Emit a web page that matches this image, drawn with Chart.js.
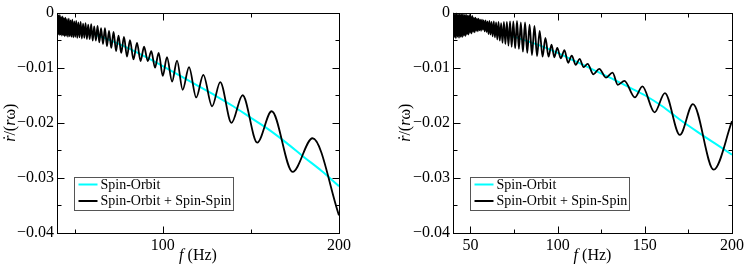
<!DOCTYPE html>
<html>
<head>
<meta charset="utf-8">
<script src="https://cdn.jsdelivr.net/npm/chart.js@4.4.0/dist/chart.umd.min.js"></script>
<style>
  body { margin: 0; background: #fff; }
  #wrap { position: relative; width: 747px; height: 266px; }
  canvas { position: absolute; top: 0; }
</style>
</head>
<body>
<div id="wrap">
  <canvas id="leftChart" width="380" height="266" style="left:0"></canvas>
  <canvas id="rightChart" width="367" height="266" style="left:380px"></canvas>
</div>
<script>
// Series names
const seriesNames = ['Spin-Orbit', 'Spin-Orbit + Spin-Spin'];

// Axis ticks (major get labels, minor only marks)
const yTicks = [-0.04, -0.035, -0.03, -0.025, -0.02, -0.015, -0.01, -0.005, 0];
const yMajor = [-0.04, -0.03, -0.02, -0.01, 0];
const yLabels = ['\u22120.04', '\u22120.03', '\u22120.02', '\u22120.01', '0'];
const leftXTicks = [50, 100, 150, 200];
const leftXMajor = [100, 200];
const rightXTicks = [50, 75, 100, 125, 150, 175, 200];
const rightXMajor = [50, 100, 150, 200];

// Left panel: Spin-Orbit (smooth)
const leftSoF = [40, 50, 60, 70, 80, 90, 100, 110, 120, 130, 140, 150, 160, 170, 180, 190, 200];
const leftSoV = [-0.0016, -0.0027, -0.0038, -0.0050, -0.0064, -0.0080, -0.0097, -0.0115, -0.0133,
  -0.0151, -0.0170, -0.0191, -0.0212, -0.0236, -0.0262, -0.0287, -0.0315];

// Left panel: Spin-Orbit + Spin-Spin (peaks and troughs)
const leftSsF = [40.0, 40.2, 40.55, 40.9, 41.25, 41.6, 42.0, 42.4, 42.8, 43.2, 43.6, 44.0, 44.4, 44.8,
  45.25, 45.7, 46.2, 46.7, 47.2, 47.7, 48.2, 48.7, 49.25, 49.8, 50.35, 50.9, 51.5, 52.1, 52.75, 53.4,
  54.1, 54.8, 55.5, 56.2, 56.95, 57.7, 58.55, 59.4, 60.25, 61.1, 62.05, 63.0, 64.0, 65.0, 66.1, 67.2,
  68.35, 69.5, 70.8, 72.1, 73.5, 74.9, 76.45, 78.0, 79.7, 81.4, 83.4, 85.4, 87.4, 89.4, 91.5, 93.5,
  95.6, 97.7, 100.0, 102.4, 105.3, 108.1, 111.3, 114.9, 119.0, 123.0, 128.0, 132.6, 139.0, 145.3,
  153.6, 161.8, 173.7, 185.0, 200.0];
const leftSsV = [-0.0022, -0.0002, -0.0039, -0.0005, -0.0041, -0.0004, -0.0040, -0.0008, -0.0042,
  -0.0007, -0.0041, -0.0010, -0.0043, -0.0009, -0.0042, -0.0012, -0.0044, -0.0011, -0.0043, -0.0014,
  -0.0044, -0.0013, -0.0045, -0.0016, -0.0044, -0.0015, -0.0046, -0.0018, -0.0045, -0.0017, -0.0047,
  -0.0020, -0.0046, -0.0019, -0.0048, -0.0022, -0.0048, -0.0021, -0.0051, -0.0025, -0.0051, -0.0024,
  -0.0054, -0.0028, -0.0057, -0.0028, -0.0061, -0.0033, -0.0064, -0.0035, -0.0070, -0.0042, -0.0073,
  -0.0044, -0.0080, -0.0050, -0.0085, -0.0055, -0.0088, -0.0062, -0.0088, -0.0070, -0.0100, -0.0073,
  -0.0115, -0.0081, -0.0125, -0.0087, -0.0140, -0.0099, -0.0154, -0.0113, -0.0170, -0.0126, -0.0200,
  -0.0150, -0.0236, -0.0179, -0.0289, -0.0228, -0.0368];

// Right panel: Spin-Orbit (smooth)
const rightSoF = [40, 50, 60, 70, 80, 90, 100, 110, 120, 130, 140, 150, 160, 170, 180, 190, 200];
const rightSoV = [-0.0010, -0.0020, -0.0029, -0.0039, -0.0049, -0.0060, -0.0073, -0.0088, -0.0103,
  -0.0118, -0.0134, -0.0150, -0.0170, -0.0194, -0.0216, -0.0237, -0.0258];

// Right panel: Spin-Orbit + Spin-Spin (peaks and troughs)
const rightSsF = [40.0, 40.3, 40.75, 41.2, 41.65, 42.1, 42.55, 43.0, 43.45, 43.9, 44.35, 44.8, 45.25,
  45.7, 46.15, 46.6, 47.05, 47.5, 47.95, 48.4, 48.85, 49.3, 49.75, 50.2, 50.65, 51.1, 51.55, 52.0,
  52.45, 52.9, 53.35, 53.8, 54.25, 54.7, 55.15, 55.6, 56.1, 56.6, 57.1, 57.6, 58.15, 58.7, 59.25,
  59.8, 60.35, 60.9, 61.5, 62.1, 62.75, 63.4, 64.05, 64.7, 65.4, 66.1, 66.85, 67.6, 68.4, 69.2,
  70.05, 70.9, 71.8, 72.7, 73.65, 74.6, 75.65, 76.7, 77.8, 78.9, 80.1, 81.3, 82.6, 83.9, 85.3, 86.7,
  88.2, 89.7, 91.35, 93.0, 94.8, 96.5, 98.1, 99.8, 101.8, 103.9, 106.0, 108.1, 110.4, 112.6, 114.9,
  117.2, 120.5, 123.9, 127.7, 131.5, 134.5, 138.3, 144.3, 148.6, 155.6, 161.5, 170.1, 177.6, 189.5,
  200.0];
const rightSsV = [-0.0022, -0.0001, -0.0045, -0.0002, -0.0047, -0.0001, -0.0044, -0.0003, -0.0046,
  -0.0002, -0.0044, -0.0003, -0.0045, -0.0002, -0.0042, -0.0004, -0.0043, -0.0003, -0.0040, -0.0005,
  -0.0040, -0.0004, -0.0037, -0.0006, -0.0038, -0.0006, -0.0035, -0.0009, -0.0036, -0.0009, -0.0033,
  -0.0011, -0.0034, -0.0011, -0.0032, -0.0013, -0.0033, -0.0013, -0.0031, -0.0014, -0.0034, -0.0014,
  -0.0035, -0.0016, -0.0039, -0.0015, -0.0040, -0.0017, -0.0043, -0.0016, -0.0045, -0.0018, -0.0049,
  -0.0017, -0.0051, -0.0019, -0.0055, -0.0017, -0.0057, -0.0017, -0.0060, -0.0016, -0.0062, -0.0016,
  -0.0065, -0.0015, -0.0066, -0.0018, -0.0071, -0.0018, -0.0073, -0.0022, -0.0077, -0.0024, -0.0079,
  -0.0033, -0.0080, -0.0046, -0.0080, -0.0058, -0.0081, -0.0064, -0.0083, -0.0068, -0.0091, -0.0078,
  -0.0095, -0.0084, -0.0099, -0.0093, -0.0112, -0.0102, -0.0118, -0.0109, -0.0131, -0.0124, -0.0154,
  -0.0134, -0.0181, -0.0146, -0.0222, -0.0166, -0.0285, -0.0197];

const SERIF = '"Liberation Serif", "Times New Roman", serif';
const CYAN = '#00ffff';

const toPoints = (fs, vs) => fs.map((f, i) => ({ x: f, y: vs[i] }));

// Frame, inward ticks, legend box and axis titles (xmgrace look)
const decorations = {
  id: 'decorations',
  afterDatasetsDraw(chart, args, o) {
    const { ctx, chartArea: a, scales: { x, y } } = chart;
    const L = Math.round(a.left) + 0.5, R = Math.round(a.right) + 0.5;
    const T = Math.round(a.top) + 0.5, B = Math.round(a.bottom) + 0.5;
    ctx.save();
    ctx.strokeStyle = '#000';
    ctx.lineWidth = 1;
    ctx.strokeRect(L, T, R - L, B - T);

    ctx.beginPath();
    o.xTicks.forEach(v => {
      const px = Math.round(x.getPixelForValue(v)) + 0.5;
      const len = o.xMajor.includes(v) ? 7 : 4;
      ctx.moveTo(px, B); ctx.lineTo(px, B - len);
      ctx.moveTo(px, T); ctx.lineTo(px, T + len);
    });
    yTicks.forEach(v => {
      const py = Math.round(y.getPixelForValue(v)) + 0.5;
      const len = yMajor.includes(v) ? 7 : 4;
      ctx.moveTo(L, py); ctx.lineTo(L + len, py);
      ctx.moveTo(R, py); ctx.lineTo(R - len, py);
    });
    ctx.stroke();

    // legend box
    const bx = L + 17, by = B - 56, bw = 159, bh = 33;
    ctx.fillStyle = '#fff';
    ctx.fillRect(bx, by, bw, bh);
    ctx.strokeStyle = '#555';
    ctx.strokeRect(bx, by, bw, bh);
    ctx.font = '14px ' + SERIF;
    ctx.textBaseline = 'middle';
    ctx.textAlign = 'left';
    chart.data.datasets.forEach((ds, i) => {
      const ly = by + 7 + i * 16.5;
      ctx.strokeStyle = ds.borderColor;
      ctx.lineWidth = 2;
      ctx.beginPath();
      ctx.moveTo(bx + 4, ly); ctx.lineTo(bx + 23, ly);
      ctx.stroke();
      ctx.fillStyle = '#000';
      ctx.fillText(ds.label, bx + 26, ly + 0.5);
    });

    // x title: f (Hz)
    ctx.fillStyle = '#000';
    ctx.textBaseline = 'middle';
    const cx = (a.left + a.right) / 2;
    drawParts(ctx, [['f', 'italic 16px '], [' (Hz)', '16px ']], cx, 256);

    // y title: r-dot/(r omega), rotated
    ctx.save();
    ctx.translate(o.yTitleX, (a.top + a.bottom) / 2);
    ctx.rotate(-Math.PI / 2);
    const yParts = [['r', 'italic 16px '], ['/(', '16px '], ['r', 'italic 16px '], ['\u03c9', '16px '], [')', '16px ']];
    const x0 = drawParts(ctx, yParts, 0, 0);
    ctx.font = '16px ' + SERIF;
    ctx.textAlign = 'center';
    ctx.fillText('\u02d9', x0 + 4, -1);
    ctx.restore();

    ctx.restore();
  }
};

// draws mixed-font text centred on cx, returns start x
function drawParts(ctx, parts, cx, cy) {
  let w = 0;
  parts.forEach(p => { ctx.font = p[1] + SERIF; w += ctx.measureText(p[0]).width; });
  let xPos = cx - w / 2;
  const start = xPos;
  ctx.textAlign = 'left';
  parts.forEach(p => {
    ctx.font = p[1] + SERIF;
    ctx.fillText(p[0], xPos, cy);
    xPos += ctx.measureText(p[0]).width;
  });
  return start;
}

function makeChart(id, cfg) {
  return new Chart(document.getElementById(id), {
    type: 'line',
    data: {
      datasets: [
        { label: seriesNames[0], data: toPoints(cfg.soF, cfg.soV), borderColor: CYAN, borderWidth: 2, order: 2 },
        { label: seriesNames[1], data: toPoints(cfg.ssF, cfg.ssV), borderColor: '#000', borderWidth: 1.8, order: 1 }
      ]
    },
    options: {
      responsive: false,
      animation: false,
      devicePixelRatio: 1,
      elements: { point: { radius: 0 }, line: { cubicInterpolationMode: 'monotone' } },
      layout: { padding: { left: 0, top: 7, right: cfg.padRight, bottom: 0 } },
      plugins: {
        legend: { display: false },
        tooltip: { enabled: false },
        decorations: { xTicks: cfg.xTicks, xMajor: cfg.xMajor, yTitleX: cfg.yTitleX }
      },
      scales: {
        x: {
          type: 'linear', min: 40, max: 200,
          grid: { display: false, drawTicks: false },
          border: { display: false },
          afterBuildTicks: s => { s.ticks = cfg.xTicks.map(v => ({ value: v })); },
          afterFit: s => { s.height = 33; },
          ticks: {
            autoSkip: false, maxRotation: 0, padding: 3, color: '#000',
            font: { family: SERIF, size: 16 },
            callback: v => cfg.xMajor.includes(v) ? String(v) : ''
          }
        },
        y: {
          type: 'linear', min: -0.04, max: 0,
          grid: { display: false, drawTicks: false },
          border: { display: false },
          afterBuildTicks: s => { s.ticks = yTicks.map(v => ({ value: v })); },
          afterFit: s => { s.width = cfg.yWidth; },
          ticks: {
            autoSkip: false, padding: 3, color: '#000',
            font: { family: SERIF, size: 16 },
            callback: v => { const i = yMajor.indexOf(v); return i >= 0 ? yLabels[i] : ''; }
          }
        }
      }
    },
    plugins: [decorations]
  });
}

makeChart('leftChart', {
  soF: leftSoF, soV: leftSoV, ssF: leftSsF, ssV: leftSsV,
  xTicks: leftXTicks, xMajor: leftXMajor, yWidth: 57, padRight: 41, yTitleX: 11
});
makeChart('rightChart', {
  soF: rightSoF, soV: rightSoV, ssF: rightSsF, ssV: rightSsV,
  xTicks: rightXTicks, xMajor: rightXMajor, yWidth: 73, padRight: 14, yTitleX: 26
});
</script>
</body>
</html>
